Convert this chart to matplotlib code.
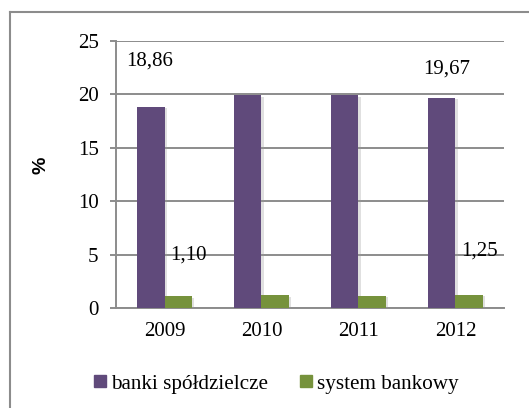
import matplotlib
matplotlib.use('Agg')
import matplotlib.pyplot as plt
import matplotlib.patheffects as pe
from matplotlib.lines import Line2D
from matplotlib.patches import Patch
import numpy as np

years = ['2009', '2010', '2011', '2012']
banki_spoldzielcze = [18.86, 19.92, 19.92, 19.67]
system_bankowy = [1.10, 1.18, 1.17, 1.25]

purple = '#604A7B'
green = '#76923C'
grid_gray = '#8C8C8C'
fs = 15

plt.rcParams['font.family'] = 'Liberation Serif'

fig = plt.figure(figsize=(5.29, 4.08), dpi=100)
ax = fig.add_axes([0.2193, 0.2451, 0.7334, 0.6544])

x = np.arange(len(years))
w = 0.28
shadow = [pe.SimplePatchShadow(offset=(1.5, -1), shadow_rgbFace='#999999', alpha=0.3), pe.Normal()]
ax.bar(x - w / 2, banki_spoldzielcze, w, color=purple, zorder=3, path_effects=shadow)
ax.bar(x + w / 2, system_bankowy, w, color=green, zorder=3, path_effects=shadow)

ax.set_xlim(-0.5, 3.5)
ax.set_ylim(0, 25)
ax.set_yticks([0, 5, 10, 15, 20, 25])
ax.set_xticks(x)
ax.set_xticklabels(years)
ax.grid(axis='y', color=grid_gray, linewidth=1.4, zorder=1)
ax.set_axisbelow(True)

for s in ['top', 'right']:
    ax.spines[s].set_visible(False)
ax.spines['left'].set_color(grid_gray)
ax.spines['left'].set_linewidth(1.4)
ax.spines['bottom'].set_color(grid_gray)
ax.spines['bottom'].set_linewidth(1.4)
ax.tick_params(axis='y', length=4.5, width=1.4, color=grid_gray, pad=8, labelsize=fs)
ax.tick_params(axis='x', length=0, pad=10, labelsize=fs)

# value labels for the first and last year
ax.text(x[0] - w / 2 - 0.01, 23.1, '18,86', ha='center', va='center', fontsize=fs)
ax.text(x[3] - w / 2 + 0.05, 22.4, '19,67', ha='center', va='center', fontsize=fs)
ax.text(x[0] + w / 2 + 0.11, 5.0, '1,10', ha='center', va='center', fontsize=fs)
ax.text(x[3] + w / 2 + 0.11, 5.3, '1,25', ha='center', va='center', fontsize=fs)

fig.text(40.5 / 529, 1 - 165 / 408, '%', rotation=90, ha='center', va='center',
         fontsize=14, fontweight='bold', family='Liberation Sans')

handles = [Patch(color=purple), Patch(color=green)]
fig.legend(handles, ['banki spółdzielcze', 'system bankowy'], ncol=2, frameon=False,
           loc='center', bbox_to_anchor=(276.5 / 529, 1 - 384 / 408), fontsize=15.2,
           handlelength=0.55, handleheight=0.55, handletextpad=0.25, columnspacing=1.5)

# chart frame, left and top edges
fig.add_artist(Line2D([10 / 529, 10 / 529], [0, 1 - 12 / 408], color=grid_gray, linewidth=1.5,
                      transform=fig.transFigure))
fig.add_artist(Line2D([10 / 529, 1], [1 - 12 / 408, 1 - 12 / 408], color=grid_gray, linewidth=1.5,
                      transform=fig.transFigure))

fig.savefig('out.png', dpi=100)
